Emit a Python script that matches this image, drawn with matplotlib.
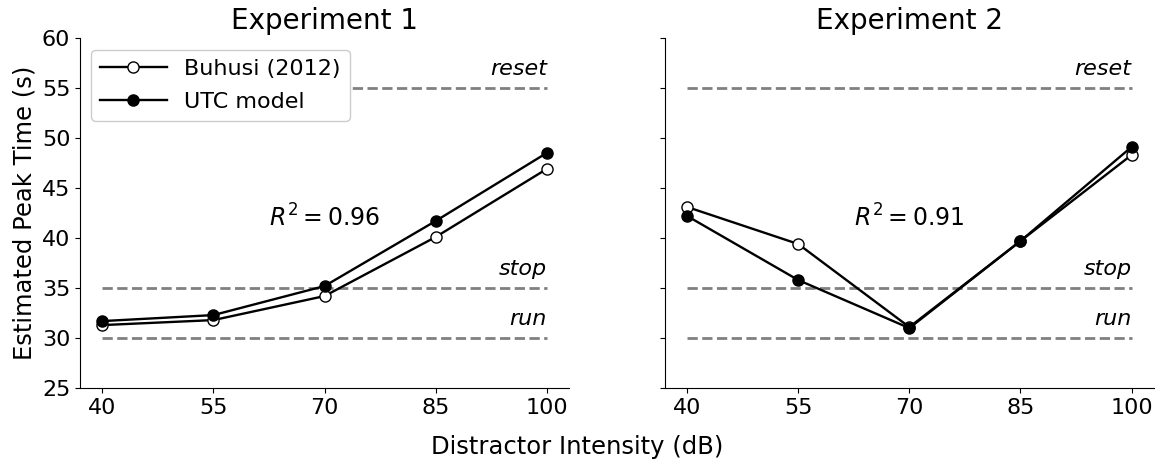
import numpy as np
import matplotlib.pyplot as plt

intensity = [40, 55, 70, 85, 100]
exp1_buhusi = [31.3, 31.8, 34.2, 40.1, 46.9]
exp1_utc = [31.7, 32.3, 35.2, 41.7, 48.5]
exp2_buhusi = [43.1, 39.4, 31.1, 39.7, 48.3]
exp2_utc = [42.2, 35.8, 31.0, 39.7, 49.1]
r2_values = [0.96, 0.91]
ref_levels = {'reset': 55, 'stop': 35, 'run': 30}

fig, axes = plt.subplots(1, 2, figsize=(11.55, 4.61), dpi=100, sharey=True)
fig.subplots_adjust(left=0.0693, right=0.999, top=0.918, bottom=0.158, wspace=0.196)

data = [(exp1_buhusi, exp1_utc), (exp2_buhusi, exp2_utc)]
for i, ax in enumerate(axes):
    buh, utc = data[i]
    for name, lvl in ref_levels.items():
        ax.plot([40, 100], [lvl, lvl], '--', color='gray', lw=2, zorder=1)
        ax.text(100, lvl + 0.9, name, style='italic', ha='right', va='bottom', fontsize=16)
    ax.plot(intensity, buh, '-o', color='black', mfc='white', mec='black', ms=8, lw=1.7,
            label='Buhusi (2012)', zorder=3)
    ax.plot(intensity, utc, '-o', color='black', mfc='black', ms=8, lw=1.7,
            label='UTC model', zorder=4)
    ax.text(70, 42.0, '$R^2 = %.2f$' % r2_values[i], ha='center', va='center', fontsize=17)
    ax.set_title('Experiment %d' % (i + 1), fontsize=20)
    ax.set_xlim(37, 103)
    ax.set_ylim(25, 60)
    ax.set_xticks(intensity)
    ax.set_yticks(np.arange(25, 61, 5))
    ax.tick_params(labelsize=16)
    ax.spines['top'].set_visible(False)
    ax.spines['right'].set_visible(False)

axes[0].set_ylabel('Estimated Peak Time (s)', fontsize=17.5)
axes[0].legend(loc='upper left', fontsize=16, bbox_to_anchor=(0.0, 0.998),
               handlelength=3, labelspacing=0.6, framealpha=1)
fig.supxlabel('Distractor Intensity (dB)', fontsize=17.5, y=0.005)

fig.savefig('out.png')
